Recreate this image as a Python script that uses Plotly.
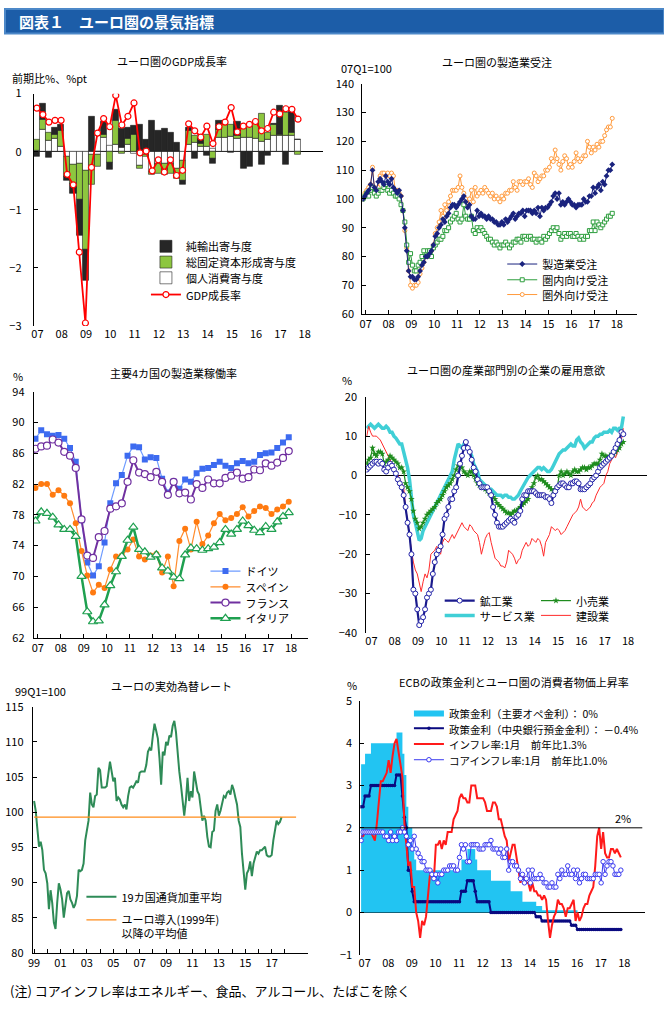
import plotly.graph_objects as go

W, H = 664, 1010
FONT = "Noto Sans CJK JP"

# ---------------- data ----------------
# Panel 1: Euro area GDP growth (q/q %), 2007Q1-2017Q4
gdp_quarters = list(range(44))
gdp_year_labels = ['07', '08', '09', '10', '11', '12', '13', '14', '15', '16', '17', '18']
gdp_consumption = [0.02, 0.38, 0.19, 0.22, 0.08, -0.08, -0.22, -0.20, -0.32, -0.05, -0.05, 0.25,
                   0.10, 0.12, 0.07, 0.13, -0.03, -0.24, -0.05, -0.35, -0.20, -0.21, -0.20, -0.30,
                   -0.15, 0.13, 0.16, 0.08, 0.08, 0.05, 0.25, 0.24, 0.26, 0.22, 0.25, 0.25,
                   0.22, 0.18, 0.20, 0.28, 0.28, 0.28, 0.28, 0.20]
gdp_investment = [0.18, 0.17, 0.14, 0.08, 0.28, -0.35, -0.33, -0.63, -1.36, -0.52, -0.20, 0.04,
                  -0.18, 0.42, -0.04, 0.09, 0.30, -0.06, -0.03, -0.04, -0.17, -0.18, -0.17, -0.17,
                  -0.35, 0.23, 0.11, 0.06, 0.22, -0.12, 0.13, 0.22, 0.21, 0.05, 0.16, 0.22,
                  0.28, 0.48, 0.12, 0.18, 0.02, 0.40, 0.05, -0.05]
gdp_net_exports = [-0.08, 0.27, -0.10, 0.12, 0.10, -0.07, -0.18, -0.62, -0.54, 0.60, 0.00, 0.22,
                   -0.13, 0.18, 0.33, 0.19, 0.15, 0.47, 0.20, 0.54, 0.36, 0.40, 0.33, 0.15,
                   -0.07, 0.05, -0.12, 0.10, -0.06, -0.08, 0.15, 0.08, -0.02, 0.25, -0.30, -0.25,
                   0.02, -0.22, -0.07, 0.02, 0.50, -0.22, 0.38, 0.00]
gdp_growth = [0.75, 0.64, 0.51, 0.54, 0.54, -0.39, -0.57, -1.73, -2.95, -0.27, 0.32, 0.57,
              0.43, 0.97, 0.46, 0.61, 0.84, -0.02, 0.01, -0.33, -0.14, -0.35, -0.14, -0.41,
              -0.32, 0.48, 0.36, 0.25, 0.44, 0.14, 0.43, 0.51, 0.76, 0.34, 0.44, 0.47,
              0.52, 0.36, 0.40, 0.68, 0.65, 0.74, 0.73, 0.56]

# Panel 2: manufacturing orders (07Q1=100), monthly 2007-01 .. 2017-12
orders_total = [100, 101, 102, 103, 105, 110, 104, 103, 106, 107, 106, 105,
                108, 106, 105, 107, 104, 103, 102, 103, 101, 96, 90, 82,
                75, 73, 73, 72, 72, 73, 75, 77, 78, 80, 80, 81,
                82, 84, 87, 88, 90, 91, 93, 92, 94, 95, 97, 98,
                98, 97, 98, 99, 100, 101, 99, 97, 98, 94, 93, 93,
                96, 94, 95, 94, 94, 93, 94, 93, 93, 92, 92, 91,
                91, 92, 91, 93, 92, 93, 94, 95, 93, 94, 95, 95,
                96, 94, 96, 96, 96, 95, 96, 95, 97, 94, 97, 96,
                97, 97, 98, 99, 101, 102, 100, 102, 98, 99, 98, 99,
                100, 99, 98, 98, 97, 98, 98, 98, 100, 99, 99, 101,
                101, 104, 102, 104, 105, 103, 106, 105, 108, 110, 110, 112]
orders_domestic = [100, 101, 102, 101, 103, 104, 102, 101, 102, 103, 103, 104,
                   105, 103, 102, 103, 102, 101, 101, 100, 98, 96, 92, 84,
                   78, 81, 77, 75, 75, 77, 78, 80, 82, 80, 82, 82,
                   80, 83, 84, 85, 86, 86, 87, 89, 89, 90, 92, 93,
                   94, 95, 93, 92, 93, 98, 94, 93, 93, 94, 89, 88,
                   90, 89, 90, 89, 88, 87, 86, 86, 85, 84, 85, 84,
                   83, 84, 84, 85, 84, 83, 84, 85, 85, 86, 86, 85,
                   87, 87, 86, 87, 87, 86, 86, 85, 86, 86, 85, 87,
                   86, 87, 88, 89, 90, 89, 90, 88, 86, 87, 88, 87,
                   88, 88, 87, 87, 88, 87, 86, 87, 86, 87, 87, 89,
                   89, 92, 89, 92, 91, 90, 91, 92, 93, 94, 94, 95]
orders_foreign = [100, 102, 103, 104, 105, 111, 104, 103, 104, 108, 109, 109,
                  108, 109, 108, 109, 108, 103, 103, 102, 101, 96, 89, 83,
                  75, 70, 69, 70, 70, 71, 74, 76, 78, 80, 80, 81,
                  82, 84, 88, 90, 92, 96, 94, 98, 96, 99, 101, 103,
                  103, 103, 104, 108, 104, 102, 100, 98, 100, 103, 99, 104,
                  101, 102, 103, 102, 104, 103, 102, 101, 102, 100, 101, 100,
                  99, 101, 100, 102, 102, 103, 103, 106, 104, 103, 106, 106,
                  105, 106, 106, 107, 105, 104, 109, 108, 106, 107, 108, 108,
                  110, 110, 111, 114, 113, 117, 114, 112, 110, 113, 115, 114,
                  111, 112, 111, 113, 116, 114, 113, 114, 115, 115, 120, 118,
                  116, 118, 117, 119, 118, 120, 120, 122, 124, 125, 125, 128]

# Panel 3: capacity utilisation (%), quarterly 2007Q1 .. 2018Q1
cu_germany = [87.9, 89.0, 88.5, 88.3, 88.4, 87.9, 86.7, 84.9, 77.3, 71.8, 70.1, 71.3,
              74.4, 79.5, 82.1, 83.2, 85.7, 86.9, 86.8, 85.2, 85.5, 85.4, 82.7, 80.9,
              82.3, 81.4, 82.6, 82.3, 83.4, 84.0, 84.1, 84.5, 84.9, 84.4, 84.1, 84.7,
              85.0, 84.7, 84.9, 85.8, 86.0, 86.1, 86.7, 87.4, 88.1]
cu_spain = [81.5, 82.0, 82.0, 80.6, 81.2, 80.5, 79.5, 76.9, 73.3, 70.1, 67.9, 68.9,
            68.5, 70.9, 72.6, 72.7, 73.5, 74.8, 72.6, 72.2, 72.7, 72.9, 70.5, 72.6,
            68.7, 74.6, 76.2, 73.5, 77.1, 74.2, 75.3, 76.9, 78.1, 77.3, 77.6, 78.1,
            79.0, 77.8, 78.5, 79.1, 78.9, 78.1, 78.7, 79.1, 79.7]
cu_france = [86.6, 86.9, 87.0, 87.8, 87.4, 86.2, 85.7, 84.1, 77.4, 72.7, 72.4, 75.1,
             75.9, 78.8, 79.1, 79.5, 82.3, 85.1, 83.5, 83.3, 82.9, 83.6, 82.3, 80.6,
             82.3, 80.8, 80.9, 80.0, 82.0, 81.5, 82.6, 82.1, 82.1, 82.8, 83.1, 83.5,
             82.7, 82.9, 83.9, 83.8, 84.7, 84.4, 84.8, 85.4, 86.3]
cu_italy = [77.2, 78.4, 78.2, 77.7, 76.7, 76.1, 76.1, 75.2, 70.0, 65.4, 64.1, 64.2,
            66.3, 68.8, 70.6, 72.6, 74.7, 76.4, 73.5, 73.2, 72.5, 72.8, 71.1, 70.7,
            69.9, 69.7, 72.8, 73.7, 73.6, 73.4, 73.6, 73.8, 74.4, 76.1, 75.5, 76.1,
            77.2, 76.6, 76.0, 75.7, 76.5, 76.1, 77.1, 77.8, 78.3]

# Panel 4: employment expectations by sector, monthly 2007-01 .. 2018-01
emp_industry = [1.5, 2, 2.5, 3, 3.5, 3.5, 3, 3.5, 3, 1.5, 1, 2,
                3, 2.5, 1.5, 0.5, -1, -2, -3, -5, -8, -12, -15, -20,
                -29, -30, -34, -38, -37, -36, -34, -31, -30, -29, -25, -22,
                -20, -19, -18, -15, -11, -10, -8, -6, -6, -4, -3, 0,
                3, 5, 7, 8.5, 7, 6, 4, 2, 1, -1, -2, -3,
                -3, -3, -3, -4, -5, -8, -10, -12, -13, -13, -13, -12.5,
                -12, -11.5, -11, -11.5, -12, -10.5, -10, -9, -6, -5, -5, -4,
                -4, -4, -4, -4.5, -5, -5, -5, -5, -5.5, -5.5, -6, -7,
                -5, -4, -3, -2.5, -2, -2, -2.5, -3, -3, -2, -2, -1.5,
                -1.5, -2, -3.5, -3.5, -3.5, -3, -2.5, -2, -1, -0.5, 0, 1,
                2, 2.5, 3, 3.5, 4, 4.5, 5, 6, 7, 8, 9, 11,
                10.5]
emp_services = [12, 12.5, 13, 12.5, 12, 12.5, 13, 12.5, 12, 12, 12.5, 12,
                11, 11, 10, 9.5, 8.5, 8, 8, 6, 4, 2, -1, -5,
                -10, -12, -14, -16.5, -16, -14, -13, -12, -11, -10, -9, -8,
                -7, -6, -5, -4, -3, -1.5, -1, 0, 1, 4, 6, 8,
                7.5, 7, 8, 7.5, 7, 6, 5, 3, 2, 1, -1, -1.5,
                -2, -2.5, -3, -3.5, -3.5, -4, -4.5, -5, -5, -5, -5.5, -5,
                -5, -5.5, -5.5, -6, -6, -5.5, -5, -4, -3, -2, -1, -0.5,
                0, 0.5, 1, 1.5, 2, 2, 1.5, 2, 1.5, 1, 1, 1.5,
                2.5, 3.5, 5, 5.5, 6, 6.5, 6.5, 7, 7.5, 8, 7.5, 7.5,
                9, 9.5, 8.5, 8, 7, 7.5, 8, 8.5, 8.5, 9.5, 10, 10,
                10.5, 10.5, 11, 11, 11, 11.5, 11, 12, 12, 11.5, 12, 12,
                15]
emp_retail = [3, 4, 4.5, 7, 5.5, 5, 6, 6, 5.5, 3, 3.5, 4,
              5, 4.5, 4, 3.5, 3, 2, 2, 1, -2, -3, -4, -6,
              -9, -11, -12, -13.5, -13, -12, -11, -10, -9.5, -9, -8.5, -8,
              -7, -6.5, -6, -5, -4, -3, -2.5, -2, -1, 0, 1.5, 2.5,
              3, 2, 1, 0.5, 0, 1, 1, 0, -1, -2, -2.5, -3,
              -3, -3.5, -4, -4.5, -5, -5.5, -6, -7, -7.5, -8, -8.5, -9,
              -9.5, -9.5, -10, -9.5, -9, -9, -8.5, -8, -7.5, -7, -6.5, -6,
              -4, -3, -2, -0.5, 0, -1, -1, -1.5, -2, -2.5, -3, -3.5,
              -4, -3.5, -3, 0, 1, 0, 0.5, 1, 0.5, 0, 1, 1.5,
              1, 1, 1.5, 2, 2, 1.5, 2, 2, 2.5, 3, 3, 3,
              4, 5.5, 5, 5, 4.5, 5, 5.5, 5.5, 6, 6.5, 7, 8,
              8.5]
emp_construction = [10, 12.5, 11, 10, 10, 10, 9.5, 9, 8, 7, 6, 5,
                    4, 3, 2, 1, 0, -1, -2, -3, -8, -12, -15, -19,
                    -22, -24, -25, -27, -29.5, -27, -25, -26, -24, -20, -19.5, -19,
                    -18, -19, -20, -17, -16, -16.5, -17, -16, -15, -16, -15, -14,
                    -13, -12, -13, -13.5, -14, -12.5, -13, -14, -14.5, -15, -17, -20,
                    -18, -16, -15, -14.5, -17, -19, -21, -21.5, -22, -23, -23, -23.5,
                    -22, -19, -19.5, -20, -21, -22.5, -21.5, -21, -19, -18, -17, -18,
                    -17.5, -16, -16.5, -17, -16, -16.5, -18, -20.5, -17, -16, -15, -13,
                    -13.5, -14, -13.5, -14, -15, -14.5, -14, -13, -12, -11, -10, -9.5,
                    -9, -8, -6, -8, -8.5, -9, -8.5, -8, -7, -6.5, -5, -4,
                    -3, -2.5, -2, 0, 1, 3, 4, 5, 4.5, 6, 7, 9,
                    12]

# Panel 5: euro nominal effective exchange rate (99Q1=100), 1999 .. 2017, every 1.5 months
eer_start, eer_step = 1999.0, 0.125
eer_values = [101.6, 100.2, 97.6, 95.1, 95.8, 94.6, 91.8, 91.3, 89.9, 86.2,
              88.9, 87.1, 84.3, 83.4, 87.1, 89.9, 89.0, 87.6, 85.0, 87.1,
              88.5, 88.8, 87.6, 87.1, 86.4, 86.9, 88.1, 91.8, 91.6, 91.8,
              92.7, 96.0, 97.4, 98.8, 102.8, 101.1, 100.7, 102.3, 102.5, 106.3,
              106.0, 103.5, 103.5, 103.5, 103.7, 105.8, 107.2, 105.8, 104.4, 104.9,
              101.6, 102.1, 101.8, 101.1, 100.7, 101.1, 100.4, 102.3, 103.5, 103.7,
              103.5, 103.9, 104.4, 104.2, 105.6, 105.8, 105.8, 105.8, 106.7, 108.6,
              109.1, 108.8, 110.9, 112.6, 111.6, 110.5, 107.7, 103.9, 108.6, 108.1,
              110.0, 109.5, 110.9, 110.7, 112.3, 113.0, 111.4, 108.1, 105.8, 103.9,
              101.1, 99.5, 101.6, 104.9, 101.6, 103.0, 102.1, 105.8, 104.4, 103.0,
              102.5, 100.2, 98.8, 99.5, 98.8, 96.5, 95.1, 95.0, 97.2, 97.4,
              100.2, 101.1, 99.5, 100.2, 101.1, 102.3, 102.1, 102.8, 103.0, 102.5,
              103.9, 103.2, 102.1, 101.1, 98.8, 97.9, 94.1, 90.9, 89.0, 91.3,
              91.8, 93.0, 90.9, 92.7, 93.7, 94.4, 94.1, 94.6, 94.6, 94.8,
              95.1, 93.9, 93.7, 93.7, 93.9, 96.0, 97.4, 98.8, 98.3, 98.6,
              99.3]
eer_average = 99.3
eer_average_span = [1999.0, 2018.85]
eer_tick_years = list(range(1999, 2019))

# Panel 6: ECB policy rates and HICP inflation, monthly 2007-01 .. 2018-01
mro_rate = [3.5, 3.5, 3.75, 3.75, 3.75, 4.0, 4.0, 4.0, 4.0, 4.0, 4.0, 4.0,
            4.0, 4.0, 4.0, 4.0, 4.0, 4.0, 4.25, 4.25, 4.25, 3.75, 3.25, 2.5,
            2.0, 2.0, 1.5, 1.25, 1.0, 1.0, 1.0, 1.0, 1.0, 1.0, 1.0, 1.0,
            1.0, 1.0, 1.0, 1.0, 1.0, 1.0, 1.0, 1.0, 1.0, 1.0, 1.0, 1.0,
            1.0, 1.0, 1.0, 1.25, 1.25, 1.25, 1.5, 1.5, 1.5, 1.5, 1.25, 1.0,
            1.0, 1.0, 1.0, 1.0, 1.0, 1.0, 0.75, 0.75, 0.75, 0.75, 0.75, 0.75,
            0.75, 0.75, 0.75, 0.75, 0.5, 0.5, 0.5, 0.5, 0.5, 0.5, 0.25, 0.25,
            0.25, 0.25, 0.25, 0.25, 0.25, 0.15, 0.15, 0.15, 0.05, 0.05, 0.05, 0.05,
            0.05, 0.05, 0.05, 0.05, 0.05, 0.05, 0.05, 0.05, 0.05, 0.05, 0.05, 0.05,
            0.05, 0.05, 0.0, 0.0, 0.0, 0.0, 0.0, 0.0, 0.0, 0.0, 0.0, 0.0,
            0.0, 0.0, 0.0, 0.0, 0.0, 0.0, 0.0, 0.0, 0.0, 0.0, 0.0, 0.0,
            0.0]
deposit_rate = [2.5, 2.5, 2.75, 2.75, 2.75, 3.0, 3.0, 3.0, 3.0, 3.0, 3.0, 3.0,
                3.0, 3.0, 3.0, 3.0, 3.0, 3.0, 3.25, 3.25, 3.25, 2.75, 2.25, 2.0,
                1.0, 1.0, 0.5, 0.25, 0.25, 0.25, 0.25, 0.25, 0.25, 0.25, 0.25, 0.25,
                0.25, 0.25, 0.25, 0.25, 0.25, 0.25, 0.25, 0.25, 0.25, 0.25, 0.25, 0.25,
                0.25, 0.25, 0.25, 0.5, 0.5, 0.5, 0.75, 0.75, 0.75, 0.75, 0.5, 0.25,
                0.25, 0.25, 0.25, 0.25, 0.25, 0.25, 0.0, 0.0, 0.0, 0.0, 0.0, 0.0,
                0.0, 0.0, 0.0, 0.0, 0.0, 0.0, 0.0, 0.0, 0.0, 0.0, 0.0, 0.0,
                0.0, 0.0, 0.0, 0.0, 0.0, -0.1, -0.1, -0.1, -0.2, -0.2, -0.2, -0.2,
                -0.2, -0.2, -0.2, -0.2, -0.2, -0.2, -0.2, -0.2, -0.2, -0.2, -0.2, -0.3,
                -0.3, -0.3, -0.4, -0.4, -0.4, -0.4, -0.4, -0.4, -0.4, -0.4, -0.4, -0.4,
                -0.4, -0.4, -0.4, -0.4, -0.4, -0.4, -0.4, -0.4, -0.4, -0.4, -0.4, -0.4,
                -0.4]
hicp = [1.8, 1.8, 1.9, 1.9, 1.9, 1.9, 1.8, 1.7, 2.1, 2.6, 3.1, 3.1,
        3.2, 3.3, 3.6, 3.3, 3.7, 4.0, 4.1, 3.8, 3.6, 3.2, 2.1, 1.6,
        1.1, 1.2, 0.6, 0.6, 0.0, -0.2, -0.6, -0.2, -0.3, -0.1, 0.5, 0.9,
        0.9, 0.8, 1.6, 1.6, 1.7, 1.5, 1.7, 1.6, 1.9, 1.9, 1.9, 2.2,
        2.3, 2.4, 2.7, 2.8, 2.7, 2.7, 2.6, 2.6, 3.0, 3.0, 3.0, 2.7,
        2.7, 2.7, 2.7, 2.6, 2.4, 2.4, 2.4, 2.6, 2.6, 2.5, 2.2, 2.2,
        2.0, 1.8, 1.7, 1.2, 1.4, 1.6, 1.6, 1.3, 1.1, 0.7, 0.9, 0.8,
        0.7, 0.7, 0.5, 0.7, 0.5, 0.5, 0.4, 0.4, 0.3, 0.4, 0.3, -0.2,
        -0.6, -0.3, -0.1, 0.0, 0.3, 0.2, 0.2, 0.1, -0.1, 0.1, 0.1, 0.2,
        0.3, -0.2, 0.0, -0.2, -0.1, 0.1, 0.2, 0.2, 0.4, 0.5, 0.6, 1.1,
        1.8, 2.0, 1.5, 1.9, 1.4, 1.3, 1.3, 1.5, 1.5, 1.4, 1.5, 1.4,
        1.3]
core_hicp = [1.7, 1.9, 1.9, 1.9, 1.9, 1.9, 1.9, 1.9, 1.9, 1.9, 1.9, 1.9,
             1.8, 1.8, 1.7, 1.9, 1.7, 1.8, 1.7, 1.9, 1.9, 2.0, 1.9, 1.8,
             1.6, 1.7, 1.5, 1.8, 1.5, 1.4, 1.3, 1.2, 1.2, 1.0, 1.0, 1.0,
             0.9, 0.8, 0.9, 0.7, 0.9, 0.9, 1.0, 1.0, 1.0, 1.1, 1.1, 1.1,
             1.0, 1.0, 1.3, 1.6, 1.5, 1.6, 1.2, 1.2, 1.6, 1.6, 1.6, 1.6,
             1.5, 1.5, 1.5, 1.6, 1.6, 1.6, 1.7, 1.5, 1.5, 1.5, 1.4, 1.5,
             1.3, 1.3, 1.5, 1.0, 1.2, 1.2, 1.1, 1.1, 1.0, 0.8, 0.9, 0.7,
             0.8, 1.0, 0.7, 1.0, 0.8, 0.8, 0.8, 0.9, 0.8, 0.7, 0.7, 0.6,
             0.6, 0.7, 0.6, 0.6, 0.9, 0.8, 1.0, 0.9, 0.9, 1.1, 0.9, 0.9,
             1.0, 0.8, 1.0, 0.7, 0.8, 0.9, 0.9, 0.8, 0.8, 0.8, 0.8, 0.9,
             0.9, 0.9, 0.7, 1.2, 0.9, 1.1, 1.2, 1.2, 1.1, 0.9, 0.9, 0.9,
             1.0]
inflation_target = 2.0

year_labels = ['07', '08', '09', '10', '11', '12', '13', '14', '15', '16', '17', '18']
years = list(range(2007, 2019))


def monthly_x(n, start=2007.0):
    return [start + i / 12 for i in range(n)]


def quarterly_x(n, start=2007.0):
    return [start + i / 4 for i in range(n)]


# ---------------- helpers ----------------
def PX(p):
    return p / W


def PY(p):
    return 1 - p / H


tickfont = dict(family=FONT, size=11, color='black')


def yaxis(top, bottom, rng, dtick, anchor, standoff, zeroline=False):
    return dict(domain=[PY(bottom), PY(top)], range=rng, dtick=dtick, tick0=rng[0],
                showline=True, linecolor='black', linewidth=1, ticks='inside',
                ticklen=4, tickcolor='black', showgrid=False, zeroline=zeroline,
                zerolinecolor='black', zerolinewidth=1, tickfont=tickfont,
                ticklabelstandoff=standoff, anchor=anchor, fixedrange=True)


def xaxis(left, right, rng, tickvals, ticktext, anchor, line=True):
    d = dict(domain=[PX(left), PX(right)], range=rng, tickmode='array',
             tickvals=tickvals, ticktext=ticktext, showgrid=False, zeroline=False,
             tickfont=tickfont, anchor=anchor, fixedrange=True)
    if line:
        d.update(showline=True, linecolor='black', linewidth=1, ticks='inside',
                 ticklen=4, tickcolor='black')
    else:
        d.update(showline=False, ticks='')
    return d


# one legend per entry so that each row sits exactly where the reference has it
legend_slots = {}


def slot(name, text_x, center_y, anchor='middle', size=11):
    legend_slots[name] = dict(x=PX(text_x - 45), y=PY(center_y), xanchor='left',
                              yanchor=anchor, bgcolor='rgba(0,0,0,0)', borderwidth=0,
                              tracegroupgap=0, itemwidth=30, valign='top',
                              font=dict(family=FONT, size=size, color='black'))
    return name


fig = go.Figure()

# ---- Panel 1: GDP ----
bar_line = dict(color='#222222', width=0.6)
fig.add_trace(go.Bar(x=gdp_quarters, y=gdp_consumption, name='個人消費寄与度',
                     marker=dict(color='white', line=bar_line), width=1,
                     xaxis='x', yaxis='y', legend=slot('legend3', 187, 274)))
fig.add_trace(go.Bar(x=gdp_quarters, y=gdp_investment, name='総固定資本形成寄与度',
                     marker=dict(color='#8DC63F', line=bar_line), width=1,
                     xaxis='x', yaxis='y', legend=slot('legend2', 187, 258)))
fig.add_trace(go.Bar(x=gdp_quarters, y=gdp_net_exports, name='純輸出寄与度',
                     marker=dict(color='#262626', line=bar_line), width=1,
                     xaxis='x', yaxis='y', legend=slot('legend', 187, 242)))
fig.add_trace(go.Scatter(x=gdp_quarters, y=gdp_growth, name='GDP成長率', mode='lines+markers',
                         line=dict(color='#FF0000', width=1.8),
                         marker=dict(symbol='circle', size=6, color='white',
                                     line=dict(color='#FF0000', width=1.2)),
                         xaxis='x', yaxis='y', legend=slot('legend4', 187, 291)))

# ---- Panel 2: manufacturing orders ----
mx = monthly_x(len(orders_total))
fig.add_trace(go.Scatter(x=mx, y=orders_foreign, name='圏外向け受注', mode='lines+markers',
                         line=dict(color='#FF9A3C', width=1),
                         marker=dict(symbol='circle', size=4, color='white',
                                     line=dict(color='#FF9A3C', width=1)),
                         xaxis='x2', yaxis='y2', legend=slot('legend7', 546, 291)))
fig.add_trace(go.Scatter(x=mx, y=orders_domestic, name='圏内向け受注', mode='lines+markers',
                         line=dict(color='#2E9E3E', width=1),
                         marker=dict(symbol='square', size=4, color='white',
                                     line=dict(color='#2E9E3E', width=1)),
                         xaxis='x2', yaxis='y2', legend=slot('legend6', 546, 276)))
fig.add_trace(go.Scatter(x=mx, y=orders_total, name='製造業受注', mode='lines+markers',
                         line=dict(color='#1A237E', width=1),
                         marker=dict(symbol='diamond', size=4.5, color='#1A237E'),
                         xaxis='x2', yaxis='y2', legend=slot('legend5', 546, 260)))

# ---- Panel 3: capacity utilisation ----
qx = quarterly_x(len(cu_germany))
fig.add_trace(go.Scatter(x=qx, y=cu_germany, name='ドイツ', mode='lines+markers',
                         line=dict(color='#6E9BFF', width=1.2),
                         marker=dict(symbol='square', size=6, color='#3D6BF0'),
                         xaxis='x3', yaxis='y3', legend=slot('legend8', 247, 572)))
fig.add_trace(go.Scatter(x=qx, y=cu_spain, name='スペイン', mode='lines+markers',
                         line=dict(color='#FF8C2E', width=1.2),
                         marker=dict(symbol='circle', size=6, color='#FF7A10'),
                         xaxis='x3', yaxis='y3', legend=slot('legend9', 247, 588)))
fig.add_trace(go.Scatter(x=qx, y=cu_france, name='フランス', mode='lines+markers',
                         line=dict(color='#7030A0', width=2),
                         marker=dict(symbol='circle', size=7, color='white',
                                     line=dict(color='#7030A0', width=1.2)),
                         xaxis='x3', yaxis='y3', legend=slot('legend10', 247, 604)))
fig.add_trace(go.Scatter(x=qx, y=cu_italy, name='イタリア', mode='lines+markers',
                         line=dict(color='#1FA050', width=2.5),
                         marker=dict(symbol='triangle-up', size=8, color='white',
                                     line=dict(color='#1FA050', width=1.2)),
                         xaxis='x3', yaxis='y3', legend=slot('legend11', 247, 620)))

# ---- Panel 4: employment expectations ----
ex = monthly_x(len(emp_industry))
fig.add_trace(go.Scatter(x=ex, y=emp_services, name='サービス業', mode='lines',
                         line=dict(color='#40CFD6', width=3.5),
                         xaxis='x4', yaxis='y4', legend=slot('legend13', 483, 617)))
fig.add_trace(go.Scatter(x=ex, y=emp_construction, name='建設業', mode='lines',
                         line=dict(color='#FF2A2A', width=1),
                         xaxis='x4', yaxis='y4', legend=slot('legend15', 580, 617)))
fig.add_trace(go.Scatter(x=ex, y=emp_retail, name='小売業', mode='lines+markers',
                         line=dict(color='#1E8C1E', width=1.2),
                         marker=dict(symbol='star', size=5, color='#1E8C1E'),
                         xaxis='x4', yaxis='y4', legend=slot('legend14', 580, 602)))
fig.add_trace(go.Scatter(x=ex, y=emp_industry, name='鉱工業', mode='lines+markers',
                         line=dict(color='#1A1A8C', width=2.2),
                         marker=dict(symbol='circle', size=5, color='white',
                                     line=dict(color='#2323A8', width=1)),
                         xaxis='x4', yaxis='y4', legend=slot('legend12', 483, 602)))

# ---- Panel 5: effective exchange rate ----
eer_x = [eer_start + i * eer_step for i in range(len(eer_values))]
fig.add_trace(go.Scatter(x=eer_x, y=eer_values, name='19カ国通貨加重平均', mode='lines',
                         line=dict(color='#2E8B57', width=2),
                         xaxis='x5', yaxis='y5', legend=slot('legend16', 122, 903)))
fig.add_trace(go.Scatter(x=eer_average_span, y=[eer_average, eer_average],
                         name='ユーロ導入(1999年)<br>以降の平均値', mode='lines',
                         line=dict(color='#FF8C1A', width=1.2),
                         xaxis='x5', yaxis='y5', legend=slot('legend17', 122, 933)))

# ---- Panel 6: ECB rates & inflation ----
rx = monthly_x(len(mro_rate))
fig.add_trace(go.Scatter(x=rx, y=mro_rate, name='政策金利（主要オペ金利）： 0%', mode='lines',
                         line=dict(color='#22C4F2', width=0), fill='tozeroy',
                         fillcolor='#22C4F2', line_shape='hv',
                         xaxis='x6', yaxis='y6', legend=slot('legend18', 452, 716, size=10.5)))
fig.add_trace(go.Scatter(x=rx, y=deposit_rate, name='政策金利（中央銀行預金金利）： －0.4%',
                         mode='lines+markers', line=dict(color='#0A0A80', width=2),
                         marker=dict(symbol='circle', size=3.5, color='#0A0A80'),
                         xaxis='x6', yaxis='y6', legend=slot('legend19', 452, 732, size=10.5)))
fig.add_trace(go.Scatter(x=rx, y=hicp, name='インフレ率:1月　前年比1.3%', mode='lines',
                         line=dict(color='#FF1A1A', width=2),
                         xaxis='x6', yaxis='y6', legend=slot('legend20', 452, 748, size=10.5)))
fig.add_trace(go.Scatter(x=rx, y=core_hicp, name='コアインフレ率:1月　前年比1.0%',
                         mode='lines+markers', line=dict(color='#3A3AF0', width=1),
                         marker=dict(symbol='circle', size=4.5, color='white',
                                     line=dict(color='#3A3AF0', width=1)),
                         xaxis='x6', yaxis='y6', legend=slot('legend21', 452, 764, size=10.5)))

# ---------------- layout ----------------
layout = dict(
    width=W, height=H, margin=dict(l=0, r=0, t=0, b=0),
    paper_bgcolor='white', plot_bgcolor='rgba(0,0,0,0)',
    barmode='relative', bargap=0, hovermode=False, showlegend=True,
    font=dict(family=FONT, size=11, color='black'),
)

# Panel 1
layout['xaxis'] = xaxis(29, 320, [-0.5, 47.05], [4 * i + 0.1 for i in range(12)],
                        gdp_year_labels, 'y', line=False)
layout['yaxis'] = yaxis(86, 322, [-3, 1], 1, 'x', 9, zeroline=True)
# Panel 2
layout['xaxis2'] = xaxis(360, 637, [2006.97, 2019.01], [y + 0.12 for y in years],
                         year_labels, 'y2')
layout['yaxis2'] = yaxis(76, 310, [60, 140], 10, 'x2', 5)
# Panel 3
layout['xaxis3'] = xaxis(29, 305, [2006.927, 2018.823], [y + 0.1 for y in years],
                         year_labels, 'y3')
layout['yaxis3'] = yaxis(389, 639, [62, 94], 4, 'x3', 6)
# Panel 4
layout['xaxis4'] = xaxis(364, 647, [2006.98, 2019.02], [y + 0.2 for y in years],
                         year_labels, 'y4', line=False)
layout['yaxis4'] = yaxis(394, 634, [-40, 20], 10, 'x4', 6, zeroline=True)
# Panel 5
layout['xaxis5'] = xaxis(28, 305, [1998.902, 2019.73], eer_tick_years,
                         [f'{y % 100:02d}' if (y - 1999) % 2 == 0 else '' for y in eer_tick_years],
                         'y5')
layout['yaxis5'] = yaxis(709, 959, [80, 115], 5, 'x5', 6)
# Panel 6
layout['xaxis6'] = xaxis(358, 645, [2006.966, 2019.03], [y + 0.15 for y in years],
                         year_labels, 'y6', line=False)
layout['yaxis6'] = yaxis(703, 961, [-1, 5], 1, 'x6', 5, zeroline=True)

layout.update(legend_slots)
fig.update_layout(**layout)

# header band
fig.add_shape(type='rect', xref='paper', yref='paper', x0=0, x1=1, y0=PY(25), y1=1,
              fillcolor='#1C5DA8', line=dict(color='#4C88C8', width=2), layer='below')
# 2% target line
fig.add_shape(type='line', xref='x6 domain', yref='y6', x0=0, x1=0.99,
              y0=inflation_target, y1=inflation_target,
              line=dict(color='black', width=1), layer='above')


def text(s, x, y, size=11, anchor='center', color='black', bold=False):
    fig.add_annotation(text=f'<b>{s}</b>' if bold else s, xref='paper', yref='paper',
                       x=PX(x), y=PY(y), xanchor=anchor, yanchor='middle',
                       showarrow=False, font=dict(family=FONT, size=size, color=color))


text('図表１　ユーロ圏の景気指標', 12, 13, size=15, anchor='left', color='white', bold=True)
text('ユーロ圏のGDP成長率', 168, 53)
text('前期比%、%pt', 5, 70, anchor='left')
text('ユーロ圏の製造業受注', 496, 54)
text('07Q1=100', 337, 60, anchor='left')
text('主要4カ国の製造業稼働率', 170, 370)
text('%', 6, 373, anchor='left')
text('ユーロ圏の産業部門別の企業の雇用意欲', 505, 367)
text('%', 338, 377, anchor='left')
text('ユーロの実効為替レート', 168, 688)
text('99Q1=100', 8, 693, anchor='left')
text('ECBの政策金利とユーロ圏の消費者物価上昇率', 513, 684)
text('%', 343, 687, anchor='left')
text('2%', 623, 822)
text('(注) コアインフレ率はエネルギー、食品、アルコール、たばこを除く', 3, 997, size=13, anchor='left')

fig.write_html('out.html')
